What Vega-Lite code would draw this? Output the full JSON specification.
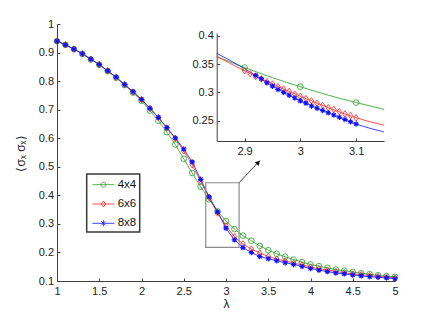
{
  "$schema": "https://vega.github.io/schema/vega-lite/v6.json",
  "width": 338,
  "height": 257,
  "autosize": {"type": "none"},
  "padding": {"left": 57, "top": 24, "right": 41, "bottom": 36},
  "background": "white",
  "config": {
    "view": {"stroke": null},
    "font": "Liberation Sans",
    "axis": {
      "grid": false, "tickSize": -3, "domainColor": "#404040", "tickColor": "#404040",
      "labelColor": "#1a1a1a", "labelFont": "Liberation Sans", "labelFontSize": 11,
      "titleFont": "Liberation Sans", "titleFontSize": 11, "titleFontWeight": "normal",
      "titleColor": "#1a1a1a", "labelFlush": false, "labelOverlap": false
    },
    "legend": {"strokeWidth": 1.5}
  },
  "datasets": {
    "main": [
      {"lam":1.0,"series":"4x4","v":0.940},{"lam":1.1,"series":"4x4","v":0.927},{"lam":1.2,"series":"4x4","v":0.912},{"lam":1.3,"series":"4x4","v":0.895},{"lam":1.4,"series":"4x4","v":0.876},{"lam":1.5,"series":"4x4","v":0.857},{"lam":1.6,"series":"4x4","v":0.835},{"lam":1.7,"series":"4x4","v":0.812},{"lam":1.8,"series":"4x4","v":0.786},{"lam":1.9,"series":"4x4","v":0.760},{"lam":2.0,"series":"4x4","v":0.731},{"lam":2.1,"series":"4x4","v":0.697},{"lam":2.2,"series":"4x4","v":0.661},{"lam":2.3,"series":"4x4","v":0.621},{"lam":2.4,"series":"4x4","v":0.578},{"lam":2.5,"series":"4x4","v":0.528},{"lam":2.6,"series":"4x4","v":0.478},{"lam":2.7,"series":"4x4","v":0.430},{"lam":2.8,"series":"4x4","v":0.386},{"lam":2.9,"series":"4x4","v":0.344},{"lam":3.0,"series":"4x4","v":0.310},{"lam":3.1,"series":"4x4","v":0.282},{"lam":3.2,"series":"4x4","v":0.259},{"lam":3.3,"series":"4x4","v":0.241},{"lam":3.4,"series":"4x4","v":0.223},{"lam":3.5,"series":"4x4","v":0.208},{"lam":3.6,"series":"4x4","v":0.195},{"lam":3.7,"series":"4x4","v":0.185},{"lam":3.8,"series":"4x4","v":0.175},{"lam":3.9,"series":"4x4","v":0.166},{"lam":4.0,"series":"4x4","v":0.158},{"lam":4.1,"series":"4x4","v":0.152},{"lam":4.2,"series":"4x4","v":0.146},{"lam":4.3,"series":"4x4","v":0.140},{"lam":4.4,"series":"4x4","v":0.136},{"lam":4.5,"series":"4x4","v":0.132},{"lam":4.6,"series":"4x4","v":0.127},{"lam":4.7,"series":"4x4","v":0.124},{"lam":4.8,"series":"4x4","v":0.120},{"lam":4.9,"series":"4x4","v":0.117},{"lam":5.0,"series":"4x4","v":0.115},
      {"lam":1.0,"series":"6x6","v":0.940},{"lam":1.1,"series":"6x6","v":0.927},{"lam":1.2,"series":"6x6","v":0.912},{"lam":1.3,"series":"6x6","v":0.896},{"lam":1.4,"series":"6x6","v":0.877},{"lam":1.5,"series":"6x6","v":0.858},{"lam":1.6,"series":"6x6","v":0.836},{"lam":1.7,"series":"6x6","v":0.813},{"lam":1.8,"series":"6x6","v":0.788},{"lam":1.9,"series":"6x6","v":0.762},{"lam":2.0,"series":"6x6","v":0.735},{"lam":2.1,"series":"6x6","v":0.704},{"lam":2.2,"series":"6x6","v":0.672},{"lam":2.3,"series":"6x6","v":0.636},{"lam":2.4,"series":"6x6","v":0.599},{"lam":2.5,"series":"6x6","v":0.555},{"lam":2.6,"series":"6x6","v":0.507},{"lam":2.7,"series":"6x6","v":0.449},{"lam":2.8,"series":"6x6","v":0.392},{"lam":2.9,"series":"6x6","v":0.338},{"lam":3.0,"series":"6x6","v":0.293},{"lam":3.1,"series":"6x6","v":0.255},{"lam":3.2,"series":"6x6","v":0.230},{"lam":3.3,"series":"6x6","v":0.212},{"lam":3.4,"series":"6x6","v":0.198},{"lam":3.5,"series":"6x6","v":0.186},{"lam":3.6,"series":"6x6","v":0.177},{"lam":3.7,"series":"6x6","v":0.170},{"lam":3.8,"series":"6x6","v":0.163},{"lam":3.9,"series":"6x6","v":0.156},{"lam":4.0,"series":"6x6","v":0.149},{"lam":4.1,"series":"6x6","v":0.143},{"lam":4.2,"series":"6x6","v":0.138},{"lam":4.3,"series":"6x6","v":0.133},{"lam":4.4,"series":"6x6","v":0.129},{"lam":4.5,"series":"6x6","v":0.125},{"lam":4.6,"series":"6x6","v":0.122},{"lam":4.7,"series":"6x6","v":0.119},{"lam":4.8,"series":"6x6","v":0.116},{"lam":4.9,"series":"6x6","v":0.114},{"lam":5.0,"series":"6x6","v":0.111},
      {"lam":1.0,"series":"8x8","v":0.940},{"lam":1.1,"series":"8x8","v":0.927},{"lam":1.2,"series":"8x8","v":0.912},{"lam":1.3,"series":"8x8","v":0.896},{"lam":1.4,"series":"8x8","v":0.877},{"lam":1.5,"series":"8x8","v":0.858},{"lam":1.6,"series":"8x8","v":0.836},{"lam":1.7,"series":"8x8","v":0.814},{"lam":1.8,"series":"8x8","v":0.788},{"lam":1.9,"series":"8x8","v":0.763},{"lam":2.0,"series":"8x8","v":0.736},{"lam":2.1,"series":"8x8","v":0.705},{"lam":2.2,"series":"8x8","v":0.673},{"lam":2.3,"series":"8x8","v":0.637},{"lam":2.4,"series":"8x8","v":0.601},{"lam":2.5,"series":"8x8","v":0.562},{"lam":2.6,"series":"8x8","v":0.517},{"lam":2.7,"series":"8x8","v":0.456},{"lam":2.8,"series":"8x8","v":0.395},{"lam":2.9,"series":"8x8","v":0.342},{"lam":3.0,"series":"8x8","v":0.285},{"lam":3.1,"series":"8x8","v":0.244},{"lam":3.2,"series":"8x8","v":0.217},{"lam":3.3,"series":"8x8","v":0.200},{"lam":3.4,"series":"8x8","v":0.186},{"lam":3.5,"series":"8x8","v":0.178},{"lam":3.6,"series":"8x8","v":0.171},{"lam":3.7,"series":"8x8","v":0.164},{"lam":3.8,"series":"8x8","v":0.158},{"lam":3.9,"series":"8x8","v":0.151},{"lam":4.0,"series":"8x8","v":0.144},{"lam":4.1,"series":"8x8","v":0.138},{"lam":4.2,"series":"8x8","v":0.133},{"lam":4.3,"series":"8x8","v":0.128},{"lam":4.4,"series":"8x8","v":0.125},{"lam":4.5,"series":"8x8","v":0.121},{"lam":4.6,"series":"8x8","v":0.118},{"lam":4.7,"series":"8x8","v":0.115},{"lam":4.8,"series":"8x8","v":0.113},{"lam":4.9,"series":"8x8","v":0.111},{"lam":5.0,"series":"8x8","v":0.108}
    ],
    "insetLine": [
      {"lam":2.85,"series":"4x4","v":0.363},{"lam":2.9,"series":"4x4","v":0.344},{"lam":2.95,"series":"4x4","v":0.326},{"lam":3.0,"series":"4x4","v":0.310},{"lam":3.05,"series":"4x4","v":0.295},{"lam":3.1,"series":"4x4","v":0.282},{"lam":3.15,"series":"4x4","v":0.270},
      {"lam":2.85,"series":"6x6","v":0.364},{"lam":2.9,"series":"6x6","v":0.338},{"lam":2.95,"series":"6x6","v":0.315},{"lam":3.0,"series":"6x6","v":0.293},{"lam":3.05,"series":"6x6","v":0.273},{"lam":3.1,"series":"6x6","v":0.255},{"lam":3.15,"series":"6x6","v":0.242},
      {"lam":2.85,"series":"8x8","v":0.369},{"lam":2.9,"series":"8x8","v":0.342},{"lam":2.95,"series":"8x8","v":0.311},{"lam":3.0,"series":"8x8","v":0.285},{"lam":3.05,"series":"8x8","v":0.264},{"lam":3.1,"series":"8x8","v":0.244},{"lam":3.15,"series":"8x8","v":0.230}
    ],
    "insetPts": [
      {"lam":2.9,"series":"4x4","v":0.344},{"lam":3.0,"series":"4x4","v":0.310},{"lam":3.1,"series":"4x4","v":0.282},
      {"lam":2.90,"series":"6x6","v":0.338},{"lam":2.91,"series":"6x6","v":0.333},{"lam":2.92,"series":"6x6","v":0.328},{"lam":2.93,"series":"6x6","v":0.324},{"lam":2.94,"series":"6x6","v":0.319},{"lam":2.95,"series":"6x6","v":0.315},{"lam":2.96,"series":"6x6","v":0.310},{"lam":2.97,"series":"6x6","v":0.306},{"lam":2.98,"series":"6x6","v":0.302},{"lam":2.99,"series":"6x6","v":0.297},{"lam":3.00,"series":"6x6","v":0.293},{"lam":3.01,"series":"6x6","v":0.289},{"lam":3.02,"series":"6x6","v":0.285},{"lam":3.03,"series":"6x6","v":0.281},{"lam":3.04,"series":"6x6","v":0.277},{"lam":3.05,"series":"6x6","v":0.273},{"lam":3.06,"series":"6x6","v":0.270},{"lam":3.07,"series":"6x6","v":0.266},{"lam":3.08,"series":"6x6","v":0.262},{"lam":3.09,"series":"6x6","v":0.259},{"lam":3.10,"series":"6x6","v":0.255},
      {"lam":2.92,"series":"8x8","v":0.330},{"lam":2.93,"series":"8x8","v":0.324},{"lam":2.94,"series":"8x8","v":0.317},{"lam":2.95,"series":"8x8","v":0.311},{"lam":2.96,"series":"8x8","v":0.305},{"lam":2.97,"series":"8x8","v":0.300},{"lam":2.98,"series":"8x8","v":0.295},{"lam":2.99,"series":"8x8","v":0.290},{"lam":3.00,"series":"8x8","v":0.285},{"lam":3.01,"series":"8x8","v":0.281},{"lam":3.02,"series":"8x8","v":0.276},{"lam":3.03,"series":"8x8","v":0.272},{"lam":3.04,"series":"8x8","v":0.268},{"lam":3.05,"series":"8x8","v":0.264},{"lam":3.06,"series":"8x8","v":0.260},{"lam":3.07,"series":"8x8","v":0.256},{"lam":3.08,"series":"8x8","v":0.252},{"lam":3.09,"series":"8x8","v":0.248},{"lam":3.10,"series":"8x8","v":0.244}
    ],
    "box": [{"x0":2.76,"x1":3.155,"y0":0.218,"y1":0.444}],
    "arrow": [{"x0":3.155,"y0":0.444,"x1":3.40,"y1":0.522,"hx":3.382,"hy":0.515}]
  },
  "layer": [
    {
      "data": {"name": "main"},
      "transform": [{"filter": "datum.lam == 1"}],
      "mark": {"type": "point", "filled": false, "opacity": 0},
      "encoding": {
        "x": {"field": "lam", "type": "quantitative", "scale": {"domain": [1, 5], "nice": false, "zero": false}, "axis": null},
        "y": {"field": "v", "type": "quantitative", "scale": {"domain": [0.1, 1], "nice": false, "zero": false}, "axis": null},
        "color": {"field": "series", "type": "nominal", "scale": {"domain": ["4x4", "6x6", "8x8"], "range": ["#22a022", "#ff2020", "#1010ff"]},
                  "legend": {"title": null, "orient": "none", "legendX": 29.7, "legendY": 150, "symbolSize": 215, "symbolStrokeWidth": 0.8, "symbolOpacity": 1, "symbolOffset": 6, "labelOffset": 6.3, "padding": 2.7, "rowPadding": 5.3, "labelFontSize": 11.5, "labelFont": "Liberation Sans", "labelColor": "#111", "strokeColor": "#3a3a3a", "fillColor": "white"}},
        "shape": {"field": "series", "type": "nominal",
                  "scale": {"domain": ["4x4", "6x6", "8x8"], "range": [
                    "M-1.5,0L1.5,0M-0.34,0A0.34,0.34 0 1,0 0.34,0A0.34,0.34 0 1,0 -0.34,0",
                    "M-1.5,0L1.5,0M0,-0.42L0.3,0L0,0.42L-0.3,0Z",
                    "M-1.5,0L1.5,0M0,-0.4L0,0.4M-0.28,-0.28L0.28,0.28M-0.28,0.28L0.28,-0.28"]},
                  "legend": {"title": null, "orient": "none", "legendX": 29.7, "legendY": 150, "symbolSize": 215, "symbolStrokeWidth": 0.8, "symbolOpacity": 1, "symbolOffset": 6, "labelOffset": 6.3, "padding": 2.7, "rowPadding": 5.3, "labelFontSize": 11.5, "labelFont": "Liberation Sans", "labelColor": "#111", "strokeColor": "#3a3a3a", "fillColor": "white"}}
      }
    },
    {
      "data": {"name": "main"},
      "mark": {"type": "line", "strokeWidth": 0.8},
      "encoding": {
        "x": {"field": "lam", "type": "quantitative", "scale": {"domain": [1, 5], "nice": false, "zero": false},
              "axis": {"orient": "bottom", "values": [1, 1.5, 2, 2.5, 3, 3.5, 4, 4.5, 5], "format": "~g", "title": "λ", "labelPadding": 7, "titleFontSize": 12, "titleX": 169, "titleY": 17, "titleBaseline": "top", "titleAlign": "center"}},
        "y": {"field": "v", "type": "quantitative", "scale": {"domain": [0.1, 1], "nice": false, "zero": false},
              "axis": {"orient": "left", "values": [0.1, 0.2, 0.3, 0.4, 0.5, 0.6, 0.7, 0.8, 0.9, 1], "format": "~g", "title": "⟨σₓ σₓ⟩", "labelPadding": 6.5, "titleFontSize": 12, "titleX": -30, "titleY": 129, "titleAngle": 270, "titleBaseline": "bottom", "titleAlign": "center"}},
        "color": {"field": "series", "type": "nominal", "scale": {"domain": ["4x4", "6x6", "8x8"], "range": ["#22a022", "#ff2020", "#1010ff"]}}
      }
    },
    {
      "data": {"name": "box"},
      "mark": {"type": "rect", "fill": null, "stroke": "#8c8c8c", "strokeWidth": 1.2},
      "encoding": {
        "x": {"field": "x0", "type": "quantitative", "scale": {"domain": [1, 5], "nice": false, "zero": false}, "axis": null},
        "x2": {"field": "x1"},
        "y": {"field": "y0", "type": "quantitative", "scale": {"domain": [0.1, 1], "nice": false, "zero": false}, "axis": null},
        "y2": {"field": "y1"}
      }
    },
    {
      "data": {"name": "arrow"},
      "mark": {"type": "rule", "color": "#111", "strokeWidth": 0.8},
      "encoding": {
        "x": {"field": "x0", "type": "quantitative", "scale": {"domain": [1, 5], "nice": false, "zero": false}, "axis": null},
        "x2": {"field": "x1"},
        "y": {"field": "y0", "type": "quantitative", "scale": {"domain": [0.1, 1], "nice": false, "zero": false}, "axis": null},
        "y2": {"field": "y1"}
      }
    },
    {
      "data": {"name": "arrow"},
      "mark": {"type": "point", "shape": "triangle-up", "filled": true, "color": "#111", "size": 28, "angle": 43, "opacity": 1},
      "encoding": {
        "x": {"field": "hx", "type": "quantitative", "scale": {"domain": [1, 5], "nice": false, "zero": false}, "axis": null},
        "y": {"field": "hy", "type": "quantitative", "scale": {"domain": [0.1, 1], "nice": false, "zero": false}, "axis": null}
      }
    },
    {
      "data": {"name": "main"},
      "transform": [{"filter": "datum.series == '4x4'"}],
      "mark": {"type": "point", "shape": "circle", "filled": false, "size": 32, "strokeWidth": 0.8, "opacity": 1, "color": "#22a022"},
      "encoding": {
        "x": {"field": "lam", "type": "quantitative", "scale": {"domain": [1, 5], "nice": false, "zero": false}, "axis": null},
        "y": {"field": "v", "type": "quantitative", "scale": {"domain": [0.1, 1], "nice": false, "zero": false}, "axis": null}
      }
    },
    {
      "data": {"name": "main"},
      "transform": [{"filter": "datum.series == '6x6'"}],
      "mark": {"type": "point", "shape": "M0,-1L0.75,0L0,1L-0.75,0Z", "filled": false, "size": 40, "strokeWidth": 0.8, "opacity": 1, "color": "#ff2020"},
      "encoding": {
        "x": {"field": "lam", "type": "quantitative", "scale": {"domain": [1, 5], "nice": false, "zero": false}, "axis": null},
        "y": {"field": "v", "type": "quantitative", "scale": {"domain": [0.1, 1], "nice": false, "zero": false}, "axis": null}
      }
    },
    {
      "data": {"name": "main"},
      "transform": [{"filter": "datum.series == '8x8'"}],
      "mark": {"type": "point", "shape": "M0,-1L0,1M-1,0L1,0M-0.7,-0.7L0.7,0.7M-0.7,0.7L0.7,-0.7", "filled": false, "size": 30, "strokeWidth": 1.1, "opacity": 1, "color": "#1010ff"},
      "encoding": {
        "x": {"field": "lam", "type": "quantitative", "scale": {"domain": [1, 5], "nice": false, "zero": false}, "axis": null},
        "y": {"field": "v", "type": "quantitative", "scale": {"domain": [0.1, 1], "nice": false, "zero": false}, "axis": null}
      }
    },
    {
      "data": {"name": "insetLine"},
      "mark": {"type": "line", "strokeWidth": 0.8, "interpolate": "monotone"},
      "encoding": {
        "x": {"field": "lam", "type": "quantitative", "scale": {"domain": [2.85, 3.15], "range": [159.7, 327], "nice": false, "zero": false},
              "axis": {"orient": "bottom", "offset": -140, "values": [2.9, 3, 3.1], "format": "~g", "title": null, "labelPadding": 7}},
        "y": {"field": "v", "type": "quantitative", "scale": {"domain": [0.214, 0.405], "range": [117, 9], "nice": false, "zero": false},
              "axis": {"orient": "left", "offset": -159.7, "values": [0.25, 0.3, 0.35, 0.4], "format": "~g", "title": null, "labelPadding": 6.4}},
        "color": {"field": "series", "type": "nominal", "scale": {"domain": ["4x4", "6x6", "8x8"], "range": ["#22a022", "#ff2020", "#1010ff"]}}
      }
    },
    {
      "data": {"name": "insetPts"},
      "transform": [{"filter": "datum.series == '4x4'"}],
      "mark": {"type": "point", "shape": "circle", "filled": false, "size": 32, "strokeWidth": 0.8, "opacity": 1, "color": "#22a022"},
      "encoding": {
        "x": {"field": "lam", "type": "quantitative", "scale": {"domain": [2.85, 3.15], "range": [159.7, 327], "nice": false, "zero": false}, "axis": null},
        "y": {"field": "v", "type": "quantitative", "scale": {"domain": [0.214, 0.405], "range": [117, 9], "nice": false, "zero": false}, "axis": null}
      }
    },
    {
      "data": {"name": "insetPts"},
      "transform": [{"filter": "datum.series == '6x6'"}],
      "mark": {"type": "point", "shape": "M0,-1L0.75,0L0,1L-0.75,0Z", "filled": false, "size": 40, "strokeWidth": 0.8, "opacity": 1, "color": "#ff2020"},
      "encoding": {
        "x": {"field": "lam", "type": "quantitative", "scale": {"domain": [2.85, 3.15], "range": [159.7, 327], "nice": false, "zero": false}, "axis": null},
        "y": {"field": "v", "type": "quantitative", "scale": {"domain": [0.214, 0.405], "range": [117, 9], "nice": false, "zero": false}, "axis": null}
      }
    },
    {
      "data": {"name": "insetPts"},
      "transform": [{"filter": "datum.series == '8x8'"}],
      "mark": {"type": "point", "shape": "M0,-1L0,1M-1,0L1,0M-0.7,-0.7L0.7,0.7M-0.7,0.7L0.7,-0.7", "filled": false, "size": 30, "strokeWidth": 1.1, "opacity": 1, "color": "#1010ff"},
      "encoding": {
        "x": {"field": "lam", "type": "quantitative", "scale": {"domain": [2.85, 3.15], "range": [159.7, 327], "nice": false, "zero": false}, "axis": null},
        "y": {"field": "v", "type": "quantitative", "scale": {"domain": [0.214, 0.405], "range": [117, 9], "nice": false, "zero": false}, "axis": null}
      }
    }
  ],
  "resolve": {"scale": {"x": "independent", "y": "independent"}, "axis": {"x": "independent", "y": "independent"}}
}
